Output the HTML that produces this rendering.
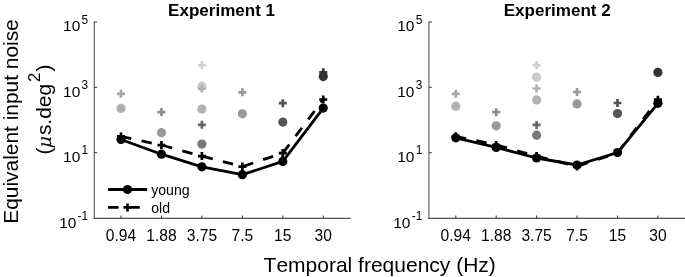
<!DOCTYPE html>
<html><head><meta charset="utf-8"><title>Equivalent input noise</title>
<style>html,body{margin:0;padding:0;background:#fff}svg{display:block}text{font-kerning:none;font-family:"Liberation Sans",Arial,Helvetica,sans-serif;fill:#000}</style></head><body>
<svg width="685" height="277" viewBox="0 0 685 277">
<rect width="685" height="277" fill="#fff"/>
<path d="M94.25 21.6V218.8" stroke="#262626" stroke-width="0.85" fill="none"/>
<path d="M93.8 218.3H350.7" stroke="#262626" stroke-width="1" fill="none"/>
<path d="M94.25 22.00h2.9" stroke="#262626" stroke-width="0.9" fill="none"/>
<path d="M94.25 87.33h2.9" stroke="#262626" stroke-width="0.9" fill="none"/>
<path d="M94.25 152.67h2.9" stroke="#262626" stroke-width="0.9" fill="none"/>
<path d="M121.00 218.3v-2.8" stroke="#262626" stroke-width="0.9" fill="none"/>
<path d="M161.45 218.3v-2.8" stroke="#262626" stroke-width="0.9" fill="none"/>
<path d="M201.90 218.3v-2.8" stroke="#262626" stroke-width="0.9" fill="none"/>
<path d="M242.35 218.3v-2.8" stroke="#262626" stroke-width="0.9" fill="none"/>
<path d="M282.80 218.3v-2.8" stroke="#262626" stroke-width="0.9" fill="none"/>
<path d="M323.25 218.3v-2.8" stroke="#262626" stroke-width="0.9" fill="none"/>
<text x="80.28" y="31.30" font-size="15.45" text-anchor="end">10</text>
<text x="81.58" y="23.60" font-size="11.9">5</text>
<text x="80.28" y="96.93" font-size="15.45" text-anchor="end">10</text>
<text x="81.58" y="88.93" font-size="11.9">3</text>
<text x="80.28" y="162.47" font-size="15.45" text-anchor="end">10</text>
<text x="81.58" y="154.27" font-size="11.9">1</text>
<text x="76.32" y="227.80" font-size="15.45" text-anchor="end">10</text>
<text x="77.62" y="219.70" font-size="11.9">-1</text>
<text x="121.00" y="240.6" font-size="15.6" text-anchor="middle">0.94</text>
<text x="161.45" y="240.6" font-size="15.6" text-anchor="middle">1.88</text>
<text x="201.90" y="240.6" font-size="15.6" text-anchor="middle">3.75</text>
<text x="242.35" y="240.6" font-size="15.6" text-anchor="middle">7.5</text>
<text x="282.80" y="240.6" font-size="15.6" text-anchor="middle">15</text>
<text x="323.25" y="240.6" font-size="15.6" text-anchor="middle">30</text>
<path d="M428.95 21.6V218.8" stroke="#262626" stroke-width="0.85" fill="none"/>
<path d="M428.5 218.3H685" stroke="#262626" stroke-width="1" fill="none"/>
<path d="M428.95 22.00h2.9" stroke="#262626" stroke-width="0.9" fill="none"/>
<path d="M428.95 87.33h2.9" stroke="#262626" stroke-width="0.9" fill="none"/>
<path d="M428.95 152.67h2.9" stroke="#262626" stroke-width="0.9" fill="none"/>
<path d="M455.80 218.3v-2.8" stroke="#262626" stroke-width="0.9" fill="none"/>
<path d="M496.20 218.3v-2.8" stroke="#262626" stroke-width="0.9" fill="none"/>
<path d="M536.60 218.3v-2.8" stroke="#262626" stroke-width="0.9" fill="none"/>
<path d="M577.00 218.3v-2.8" stroke="#262626" stroke-width="0.9" fill="none"/>
<path d="M617.50 218.3v-2.8" stroke="#262626" stroke-width="0.9" fill="none"/>
<path d="M657.90 218.3v-2.8" stroke="#262626" stroke-width="0.9" fill="none"/>
<text x="414.38" y="31.30" font-size="15.45" text-anchor="end">10</text>
<text x="415.68" y="23.60" font-size="11.9">5</text>
<text x="414.38" y="96.93" font-size="15.45" text-anchor="end">10</text>
<text x="415.68" y="88.93" font-size="11.9">3</text>
<text x="414.38" y="162.47" font-size="15.45" text-anchor="end">10</text>
<text x="415.68" y="154.27" font-size="11.9">1</text>
<text x="410.42" y="227.80" font-size="15.45" text-anchor="end">10</text>
<text x="411.72" y="219.70" font-size="11.9">-1</text>
<text x="455.80" y="240.6" font-size="15.6" text-anchor="middle">0.94</text>
<text x="496.20" y="240.6" font-size="15.6" text-anchor="middle">1.88</text>
<text x="536.60" y="240.6" font-size="15.6" text-anchor="middle">3.75</text>
<text x="577.00" y="240.6" font-size="15.6" text-anchor="middle">7.5</text>
<text x="617.50" y="240.6" font-size="15.6" text-anchor="middle">15</text>
<text x="657.90" y="240.6" font-size="15.6" text-anchor="middle">30</text>
<text x="221.6" y="15.7" font-size="17.05" font-weight="bold" text-anchor="middle">Experiment 1</text>
<text x="557.2" y="15.7" font-size="17.05" font-weight="bold" text-anchor="middle">Experiment 2</text>
<text x="379.7" y="271.5" font-size="21.0" text-anchor="middle">Temporal frequency (Hz)</text>
<text transform="translate(18.2 121.5) rotate(-90)" font-size="20.9" text-anchor="middle">Equivalent input noise</text>
<g transform="translate(50.9 0) rotate(-90)" font-size="20.9">
<text x="-154.6" y="0">(</text>
<text x="-149.8" y="0" style="font-family:'DejaVu Math TeX Gyre','Liberation Serif',serif;font-style:italic;font-size:18.6px">μ</text>
<text x="-135.1" y="0">s.deg</text>
<text x="-82.0" y="-10.8" font-size="16.8">2</text>
<text x="-71.4" y="0">)</text>
</g>
<path d="M117.00 93.80H125.00M121.00 89.80V97.80" stroke="#a6a6a6" stroke-width="2.7" fill="none"/>
<circle cx="121.00" cy="108.40" r="4.6" fill="#b0b0b0"/>
<path d="M157.45 112.10H165.45M161.45 108.10V116.10" stroke="#8c8c8c" stroke-width="2.7" fill="none"/>
<circle cx="161.45" cy="132.70" r="4.6" fill="#999999"/>
<path d="M197.90 65.10H205.90M201.90 61.10V69.10" stroke="#cfcfcf" stroke-width="2.7" fill="none"/>
<circle cx="201.90" cy="86.20" r="4.6" fill="#cccccc"/>
<path d="M197.90 88.60H205.90M201.90 84.60V92.60" stroke="#b0b0b0" stroke-width="2.7" fill="none"/>
<circle cx="201.90" cy="109.10" r="4.6" fill="#b0b0b0"/>
<path d="M197.90 124.80H205.90M201.90 120.80V128.80" stroke="#666666" stroke-width="2.7" fill="none"/>
<circle cx="201.90" cy="144.10" r="4.6" fill="#7a7a7a"/>
<path d="M238.35 92.30H246.35M242.35 88.30V96.30" stroke="#999999" stroke-width="2.7" fill="none"/>
<circle cx="242.35" cy="113.80" r="4.6" fill="#999999"/>
<path d="M278.80 103.20H286.80M282.80 99.20V107.20" stroke="#555555" stroke-width="2.7" fill="none"/>
<circle cx="282.80" cy="122.10" r="4.6" fill="#555555"/>
<circle cx="323.25" cy="76.60" r="4.6" fill="#333333"/>
<path d="M319.25 72.30H327.25M323.25 68.30V76.30" stroke="#333333" stroke-width="2.7" fill="none"/>
<polyline points="121.00,136.40 161.45,145.10 201.90,156.10 242.35,166.60 282.80,153.10 323.25,99.50" fill="none" stroke="#000" stroke-width="2.8" stroke-dasharray="10.5 10.5" stroke-linejoin="round"/>
<path d="M117.00 136.40H125.00M121.00 132.40V140.40" stroke="#000" stroke-width="2.7" fill="none"/>
<path d="M157.45 145.10H165.45M161.45 141.10V149.10" stroke="#000" stroke-width="2.7" fill="none"/>
<path d="M197.90 156.10H205.90M201.90 152.10V160.10" stroke="#000" stroke-width="2.7" fill="none"/>
<path d="M238.35 166.60H246.35M242.35 162.60V170.60" stroke="#000" stroke-width="2.7" fill="none"/>
<path d="M278.80 153.10H286.80M282.80 149.10V157.10" stroke="#000" stroke-width="2.7" fill="none"/>
<path d="M319.25 99.50H327.25M323.25 95.50V103.50" stroke="#000" stroke-width="2.7" fill="none"/>
<polyline points="121.00,139.50 161.45,154.20 201.90,166.80 242.35,174.70 282.80,161.40 323.25,108.10" fill="none" stroke="#000" stroke-width="2.8" stroke-linejoin="round"/>
<circle cx="121.00" cy="139.50" r="4.6" fill="#000"/>
<circle cx="161.45" cy="154.20" r="4.6" fill="#000"/>
<circle cx="201.90" cy="166.80" r="4.6" fill="#000"/>
<circle cx="242.35" cy="174.70" r="4.6" fill="#000"/>
<circle cx="282.80" cy="161.40" r="4.6" fill="#000"/>
<circle cx="323.25" cy="108.10" r="4.6" fill="#000"/>
<path d="M108 189.5H147.2" stroke="#000" stroke-width="2.8"/>
<circle cx="127.50" cy="189.50" r="4.6" fill="#000"/>
<path d="M108 207.4H147.2" stroke="#000" stroke-width="2.8" stroke-dasharray="10.6 10.6"/>
<path d="M123.50 207.40H131.50M127.50 203.40V211.40" stroke="#000" stroke-width="2.7" fill="none"/>
<text x="151.2" y="194.9" font-size="14.1">young</text>
<text x="151.2" y="212.8" font-size="14.1">old</text>
<path d="M451.80 93.80H459.80M455.80 89.80V97.80" stroke="#a6a6a6" stroke-width="2.7" fill="none"/>
<circle cx="455.80" cy="106.20" r="4.6" fill="#b3b3b3"/>
<path d="M492.20 112.20H500.20M496.20 108.20V116.20" stroke="#8c8c8c" stroke-width="2.7" fill="none"/>
<circle cx="496.20" cy="125.80" r="4.6" fill="#999999"/>
<path d="M532.60 65.10H540.60M536.60 61.10V69.10" stroke="#cfcfcf" stroke-width="2.7" fill="none"/>
<circle cx="536.60" cy="77.20" r="4.6" fill="#cccccc"/>
<path d="M532.60 88.50H540.60M536.60 84.50V92.50" stroke="#b0b0b0" stroke-width="2.7" fill="none"/>
<circle cx="536.60" cy="99.90" r="4.6" fill="#b3b3b3"/>
<path d="M532.60 124.90H540.60M536.60 120.90V128.90" stroke="#666666" stroke-width="2.7" fill="none"/>
<circle cx="536.60" cy="135.20" r="4.6" fill="#7a7a7a"/>
<path d="M573.00 92.00H581.00M577.00 88.00V96.00" stroke="#999999" stroke-width="2.7" fill="none"/>
<circle cx="577.00" cy="103.90" r="4.6" fill="#999999"/>
<path d="M613.50 103.00H621.50M617.50 99.00V107.00" stroke="#555555" stroke-width="2.7" fill="none"/>
<circle cx="617.50" cy="113.60" r="4.6" fill="#555555"/>
<circle cx="657.90" cy="72.40" r="4.6" fill="#333333"/>
<polyline points="455.80,136.30 496.20,145.00 536.60,156.10 577.00,166.40 617.50,153.00 657.90,99.70" fill="none" stroke="#000" stroke-width="2.8" stroke-dasharray="10.5 10.5" stroke-linejoin="round"/>
<path d="M451.80 136.30H459.80M455.80 132.30V140.30" stroke="#000" stroke-width="2.7" fill="none"/>
<path d="M492.20 145.00H500.20M496.20 141.00V149.00" stroke="#000" stroke-width="2.7" fill="none"/>
<path d="M532.60 156.10H540.60M536.60 152.10V160.10" stroke="#000" stroke-width="2.7" fill="none"/>
<path d="M573.00 166.40H581.00M577.00 162.40V170.40" stroke="#000" stroke-width="2.7" fill="none"/>
<path d="M613.50 153.00H621.50M617.50 149.00V157.00" stroke="#000" stroke-width="2.7" fill="none"/>
<path d="M653.90 99.70H661.90M657.90 95.70V103.70" stroke="#000" stroke-width="2.7" fill="none"/>
<polyline points="455.80,137.85 496.20,147.40 536.60,158.00 577.00,165.00 617.50,152.60 657.90,103.30" fill="none" stroke="#000" stroke-width="2.8" stroke-linejoin="round"/>
<circle cx="455.80" cy="137.85" r="4.6" fill="#000"/>
<circle cx="496.20" cy="147.40" r="4.6" fill="#000"/>
<circle cx="536.60" cy="158.00" r="4.6" fill="#000"/>
<circle cx="577.00" cy="165.00" r="4.6" fill="#000"/>
<circle cx="617.50" cy="152.60" r="4.6" fill="#000"/>
<circle cx="657.90" cy="103.30" r="4.6" fill="#000"/>
</svg></body></html>
